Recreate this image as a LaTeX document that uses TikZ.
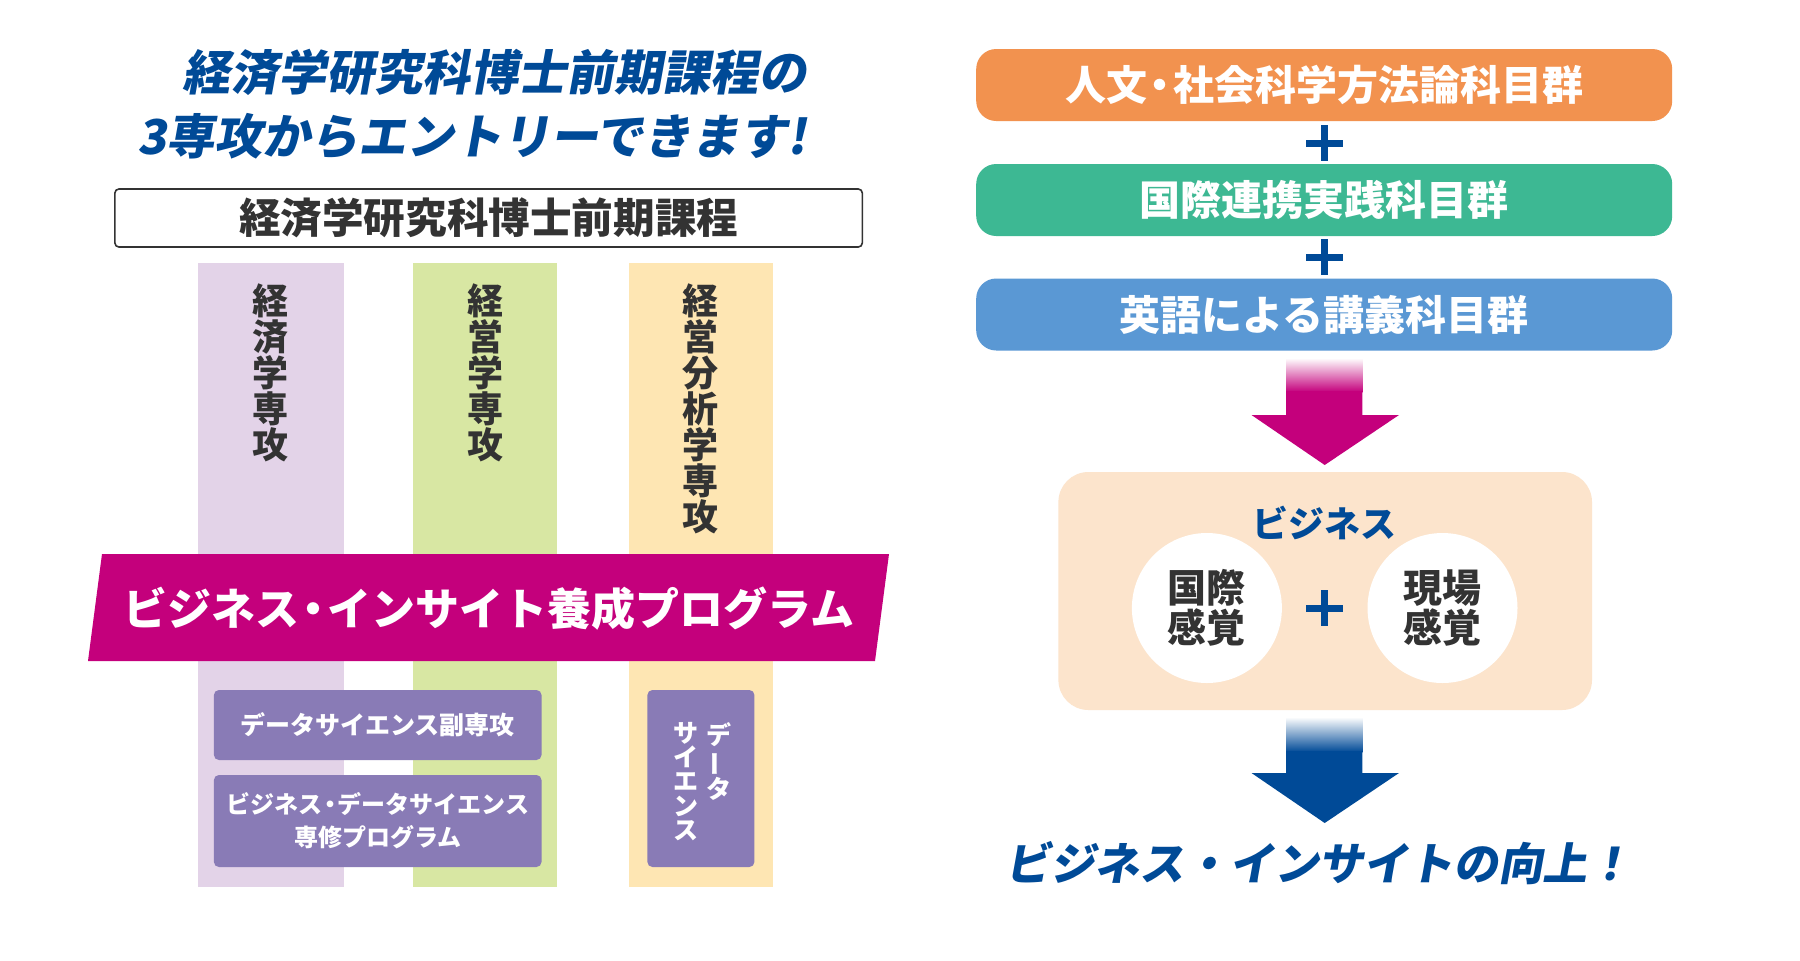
\documentclass[tikz,border=0pt]{standalone}
\usepackage{fontspec}
\usepackage{graphicx}
\setmainfont{Noto Sans CJK JP}
\newfontfamily\jpslant{Noto Sans CJK JP}[FakeSlant=0.18]
\definecolor{navy}{HTML}{004A97}
\definecolor{insightpink}{HTML}{C4007C}
\definecolor{textgray}{HTML}{333333}
\definecolor{econ}{HTML}{E3D3E8}
\definecolor{mgmt}{HTML}{D8E7A3}
\definecolor{anly}{HTML}{FEE6B3}
\definecolor{dsbox}{HTML}{897BB6}
\definecolor{human}{HTML}{F2924F}
\definecolor{intl}{HTML}{3DB893}
\definecolor{english}{HTML}{5A98D4}
\definecolor{peach}{HTML}{FCE4CC}
\newcommand{\tatebo}{\raisebox{0pt}[0.8em][0.2em]{\rotatebox[origin=c]{90}{ー}}}
\newcommand{\nakaguro}{\hspace{-0.18em}・\hspace{-0.18em}}
\tikzset{
  major/.style={anchor=north,inner sep=0,text=textgray,align=center,font=\fontsize{18}{18}\selectfont\bfseries},
  dsnode/.style={fill=dsbox,rounded corners=2.5pt,inner sep=0,text=white,align=center},
  course/.style={rounded corners=10pt,minimum width=348pt,minimum height=36pt,inner sep=0,text=white,font=\fontsize{20.5}{24}\selectfont\bfseries},
  sense/.style={circle,fill=white,minimum size=75pt,inner sep=0,align=center,text=textgray,font=\fontsize{19.5}{20}\selectfont\bfseries},
  plussign/.pic={
    \fill[navy] (-1.75pt,-9pt) rectangle (1.75pt,9pt);
    \fill[navy] (-9.25pt,-1.75pt) rectangle (9.25pt,1.75pt);
  }
}
\begin{document}
\begin{tikzpicture}[x=0.5pt,y=-0.5pt]
  \fill[white] (0,0) rectangle (1800,960);
  \useasboundingbox (0,0) rectangle (1800,960);
  % left side
  \node[anchor=east,inner sep=0,align=right,text=navy,font=\fontsize{24}{32}\selectfont\bfseries\jpslant] (title) at (807,104) {経済学研究科博士前期課程の\\3専攻からエントリーできます!};
  \node[draw=textgray,line width=0.8pt,rounded corners=2pt,minimum width=373.7pt,minimum height=29pt,inner sep=0,text=textgray,font=\fontsize{20.8}{24}\selectfont\bfseries] (degree) at (488.6,218) {経済学研究科博士前期課程};
  \fill[econ] (198,263) rectangle (343.5,887);
  \fill[mgmt] (412.8,263) rectangle (557.4,887);
  \fill[anly] (628.7,263) rectangle (773.2,887);
  \node[major] (econ) at (270.8,283) {経\\済\\学\\専\\攻};
  \node[major] (mgmt) at (485.1,283) {経\\営\\学\\専\\攻};
  \node[major] (anly) at (700.9,283) {経\\営\\分\\析\\学\\専\\攻};
  \fill[insightpink] (102,554) -- (889,554) -- (875,661) -- (88,661) -- cycle;
  \node[inner sep=0,text=white,font=\fontsize{22}{24}\selectfont\bfseries] (program) at (489,609) {ビジネス\nakaguro インサイト養成プログラム};
  \node[dsnode,minimum width=163.8pt,minimum height=35pt,font=\fontsize{12.5}{15}\selectfont\bfseries] (minor) at (377.7,725) {データサイエンス副専攻};
  \node[dsnode,minimum width=163.8pt,minimum height=46pt,font=\fontsize{12}{16.5}\selectfont\bfseries] (bds) at (377.7,821) {ビジネス\nakaguro データサイエンス\\専修プログラム};
  \node[dsnode,minimum width=53.5pt,minimum height=88.5pt] (ds) at (700.9,778.5) {};
  \node[anchor=north,inner sep=0,text=white,align=center,font=\fontsize{12.5}{12.8}\selectfont\bfseries] (dsA) at (718.7,722) {デ\\\tatebo\\タ};
  \node[anchor=north,inner sep=0,text=white,align=center,font=\fontsize{12.5}{12.1}\selectfont\bfseries] (dsB) at (686,722) {サ\\イ\\エ\\ン\\ス};
  % right side
  \node[course,fill=human] (human) at (1324.2,85) {人文\nakaguro 社会科学方法論科目群};
  \pic at (1324.7,143) {plussign};
  \node[course,fill=intl] (intl) at (1324.2,200) {国際連携実践科目群};
  \pic at (1324.7,257) {plussign};
  \node[course,fill=english] (english) at (1324.2,314.5) {英語による講義科目群};
  \shade[top color=white,bottom color=insightpink] (1286.1,358) rectangle (1362.3,392);
  \fill[insightpink] (1286.1,391) -- (1362.3,391) -- (1362.3,415) -- (1399,415) -- (1324.7,465) -- (1251.5,415) -- (1286.1,415) -- cycle;
  \node[fill=peach,rounded corners=15pt,minimum width=266.8pt,minimum height=119pt,inner sep=0] (business) at (1325.2,591) {};
  \node[inner sep=0,text=navy,font=\fontsize{18}{20}\selectfont\bfseries] (bizlabel) at (1324.7,523) {ビジネス};
  \node[sense] (global) at (1206.9,608) {国際\\感覚};
  \pic at (1324.7,608) {plussign};
  \node[sense] (field) at (1442.5,608) {現場\\感覚};
  \shade[top color=white,bottom color=navy] (1286.1,717) rectangle (1362.3,752);
  \fill[navy] (1286.1,751) -- (1362.3,751) -- (1362.3,773) -- (1399,773) -- (1324.7,823) -- (1251.5,773) -- (1286.1,773) -- cycle;
  \node[inner sep=0,text=navy,font=\fontsize{22.4}{24}\selectfont\bfseries\jpslant] (goal) at (1318.8,863) {ビジネス・インサイトの向上！};
\end{tikzpicture}
\end{document}
